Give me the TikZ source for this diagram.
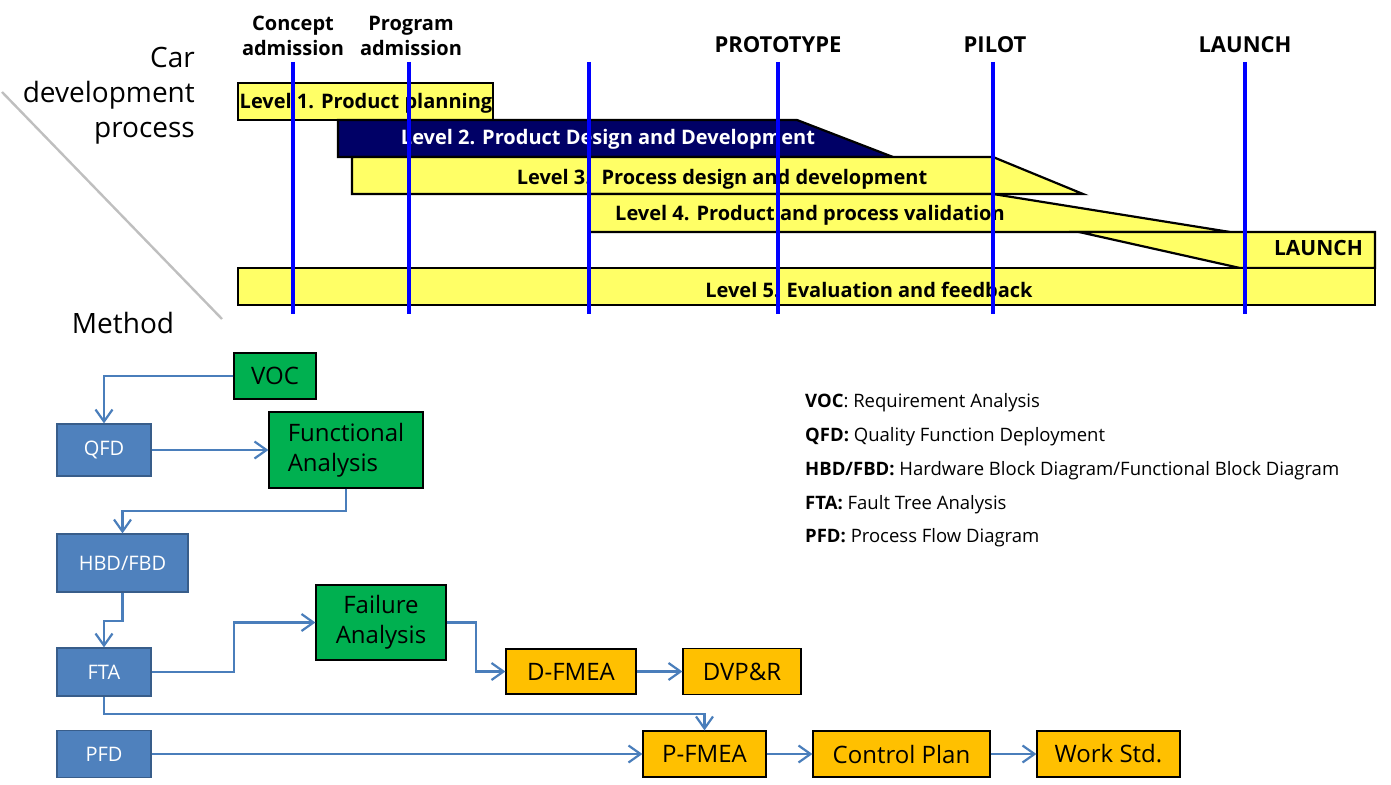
\documentclass[tikz,border=0pt]{standalone}
\usepackage{fontspec}
\setmainfont{Open Sans}
\usetikzlibrary{arrows.meta,positioning}
\definecolor{barY}{HTML}{FFFF66}
\definecolor{navyB}{HTML}{000066}
\definecolor{msBlue}{HTML}{0000FF}
\definecolor{grnF}{HTML}{00B050}
\definecolor{orgF}{HTML}{FFC000}
\definecolor{bluF}{HTML}{4F81BD}
\definecolor{bluD}{HTML}{385D8A}
\definecolor{lnk}{HTML}{4A7EBB}

\begin{document}
\begin{tikzpicture}[x=1pt,y=-1pt,
	lvl/.style={draw=black,line width=2.2pt,fill=barY},
	lvltxt/.style={inner sep=0,yshift=-2pt,font=\fontsize{20}{24}\selectfont\bfseries},
	mstxt/.style={inner sep=0,align=center,font=\fontsize{20}{25}\selectfont\bfseries},
	ms/.style={draw=msBlue,line width=3.6pt},
	grn/.style={rectangle,draw=black,line width=1.2pt,fill=grnF,inner sep=0,font=\fontsize{24}{30}\selectfont},
	blu/.style={rectangle,draw=bluD,line width=1.2pt,fill=bluF,text=white,inner sep=0,font=\fontsize{20}{24}\selectfont},
	org/.style={rectangle,draw=black,line width=1.2pt,fill=orgF,inner sep=0,font=\fontsize{24}{28}\selectfont},
	arr/.style={draw=lnk,line width=2.2pt,-{Straight Barb[length=12pt,width=17pt]}},
	leg/.style={anchor=west,inner sep=0,font=\fontsize{18.5}{22}\selectfont}]
	\useasboundingbox (0,0) rectangle (1391,784);
	% process levels
	\draw[lvl] (238,83) rectangle (493,120);
	\draw[lvl,fill=navyB] (338,120) -- (797,120) -- (893,157) -- (338,157) -- cycle;
	\draw[lvl] (352,157) -- (993,157) -- (1083,194) -- (352,194) -- cycle;
	\draw[lvl] (589,194) -- (993,194) -- (1230,232) -- (589,232) -- cycle;
	\draw[lvl] (1079,232) -- (1375,232) -- (1375,268) -- (1240,268) -- cycle;
	\draw[lvl] (238,268) rectangle (1375,305);
	\node[lvltxt] (lv1) at (366,101) {Level 1. Product planning};
	\node[lvltxt,text=white] (lv2) at (608,137) {Level 2. Product Design and Development};
	\node[lvltxt] (lv3) at (722,177) {Level 3.\ \ Process design and development};
	\node[lvltxt] (lv4) at (810,213) {Level 4. Product and process validation};
	\node[lvltxt,anchor=east,font=\fontsize{21}{24}\selectfont\bfseries] (lch) at (1363,246) {LAUNCH};
	\node[lvltxt] (lv5) at (869,288) {Level 5. Evaluation and feedback};
	% milestones
	\foreach \x in {293,409,589,778,993,1245}
		\draw[ms] (\x,62) -- (\x,314);
	\node[mstxt] (cpt) at (293,36) {Concept\\admission};
	\node[mstxt] (prg) at (411,36) {Program\\admission};
	\node[mstxt,font=\fontsize{22}{26}\selectfont\bfseries] (proto) at (778,45) {PROTOTYPE};
	\node[mstxt,font=\fontsize{22}{26}\selectfont\bfseries] (pilot) at (995,45) {PILOT};
	\node[mstxt,font=\fontsize{22}{26}\selectfont\bfseries] (launch) at (1245,45) {LAUNCH};
	% corner
	\draw[draw=black!25,line width=2.4pt] (2,92) -- (222,319);
	\node[anchor=east,align=right,inner sep=0,font=\fontsize{28}{35}\selectfont] (car) at (195,96) {Car\\development\\process};
	\node[inner sep=0,font=\fontsize{28}{34}\selectfont] (meth) at (123,323) {Method};
	% methods
	\node[grn,minimum width=82,minimum height=46] (voc) at (275,376) {VOC};
	\node[blu,minimum width=94,minimum height=52] (qfd) at (104,450) {QFD};
	\node[grn,minimum width=154,minimum height=76,align=left] (func) at (346,450) {Functional\\Analysis};
	\node[blu,minimum width=131,minimum height=58] (hbd) at (122.5,563) {HBD/FBD};
	\node[blu,minimum width=94,minimum height=48] (fta) at (104,672) {FTA};
	\node[blu,minimum width=94,minimum height=47] (pfd) at (104,754) {PFD};
	\node[grn,minimum width=130,minimum height=75,align=center] (fail) at (381,622.5) {Failure\\Analysis};
	\node[org,minimum width=130,minimum height=45] (dfmea) at (571,671.5) {D-FMEA};
	\node[org,minimum width=118,minimum height=46] (dvpr) at (742,671.5) {DVP\&R};
	\node[org,minimum width=123,minimum height=46] (pfmea) at (704.5,754) {P-FMEA};
	\node[org,minimum width=177,minimum height=46] (ctrl) at (901.5,754) {Control Plan};
	\node[org,minimum width=143,minimum height=46] (work) at (1108.5,754) {Work Std.};
	\draw[arr] (voc.west) -| (qfd.north);
	\draw[arr] (qfd.east) -- (func.west);
	\draw[arr] (func.south) -- ++(0,22) -| (hbd.north);
	\draw[arr] (hbd.south) -- ++(0,28) -| (fta.north);
	\draw[arr] (fta.east) -- ++(82,0) |- (fail.west);
	\draw[arr] (fail.east) -- ++(29,0) |- (dfmea.west);
	\draw[arr] (dfmea.east) -- (dvpr.west);
	\draw[arr] (fta.south) -- ++(0,17) -| (pfmea.north);
	\draw[arr] (pfd.east) -- (pfmea.west);
	\draw[arr] (pfmea.east) -- (ctrl.west);
	\draw[arr] (ctrl.east) -- (work.west);
	% legend
	\node[leg] (l1) at (805,403) {\textbf{VOC}: Requirement Analysis};
	\node[leg] (l2) at (805,437) {\textbf{QFD:} Quality Function Deployment};
	\node[leg] (l3) at (805,471) {\textbf{HBD/FBD:} Hardware Block Diagram/Functional Block Diagram};
	\node[leg] (l4) at (805,505) {\textbf{FTA:} Fault Tree Analysis};
	\node[leg] (l5) at (805,538) {\textbf{PFD:} Process Flow Diagram};
\end{tikzpicture}
\end{document}
